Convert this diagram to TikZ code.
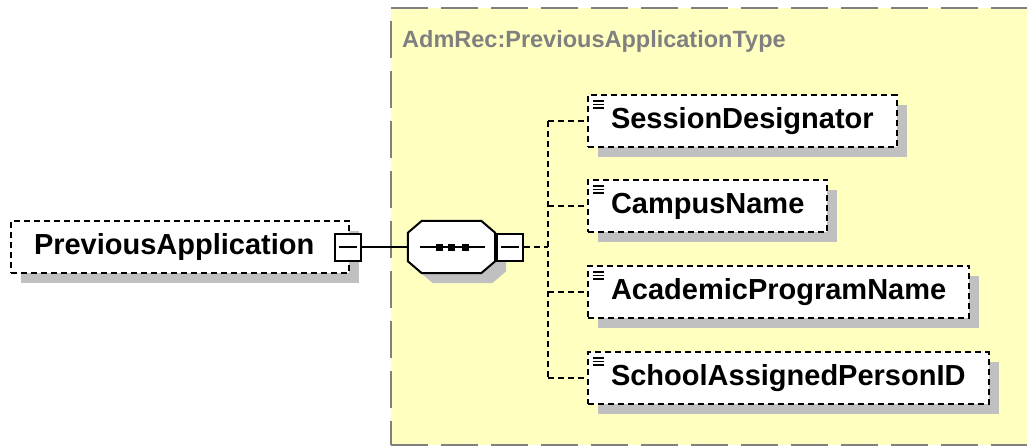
\documentclass[tikz,border=0pt]{standalone}
\usepackage{fontspec}
\setmainfont{Liberation Sans}
\usetikzlibrary{shadows}

\definecolor{typefill}{RGB}{255,255,192}
\definecolor{typeline}{RGB}{128,128,128}
\definecolor{shadowgrey}{RGB}{192,192,192}

\newcommand{\octagonpath}[1]{([shift={(14,0)}]#1.north west) -- ([shift={(-14,0)}]#1.north east)
  -- ([shift={(0,12)}]#1.north east) -- ([shift={(0,-12)}]#1.south east)
  -- ([shift={(-14,0)}]#1.south east) -- ([shift={(14,0)}]#1.south west)
  -- ([shift={(0,-12)}]#1.south west) -- ([shift={(0,12)}]#1.north west) -- cycle}

\tikzset{
  boxshadow/.style={drop shadow={shadow xshift=10pt, shadow yshift=-10pt, fill=shadowgrey, opacity=1}},
  elem/.style={draw, line width=2pt, dash pattern=on 6pt off 4pt, fill=white,
    minimum height=52pt, inner xsep=23pt, inner ysep=0pt, boxshadow,
    font=\bfseries\fontsize{29}{29}\selectfont},
  leaf/.style={elem, anchor=west,
    path picture={
      \foreach \dy in {6,9.5,13}
        \draw[solid, line width=1.5pt] ([shift={(5,\dy)}]path picture bounding box.north west) -- ++(11,0);
    }},
  minusbox/.style={draw, solid, line width=2pt, fill=white, minimum width=26pt,
    minimum height=27pt, inner sep=0pt,
    path picture={
      \draw[line width=2pt] ([xshift=4pt]path picture bounding box.west) -- ([xshift=-4pt]path picture bounding box.east);
    }},
  seqarea/.style={rectangle, minimum width=87pt, minimum height=52pt, inner sep=0pt},
  branch/.style={draw, line width=2pt, dash pattern=on 6pt off 4pt},
  typebox/.style={draw=typeline, fill=typefill, line width=2pt, dash pattern=on 37pt off 13pt}
}

\begin{document}
\begin{tikzpicture}[x=1pt,y=-1pt]
  \useasboundingbox (0,0) rectangle (1027,445);
  \clip (0,0) rectangle (1027,445);

  % complex type
  \node[typebox, anchor=north west, minimum width=650pt, minimum height=437pt] (ptype) at (390,7) {};
  \node[anchor=base west, text=typeline, font=\bfseries\fontsize{23.5}{23.5}\selectfont, inner sep=0pt]
    (ptitle) at (402,47) {AdmRec:PreviousApplicationType};

  % element and sequence
  \node[elem, anchor=west] (prevapp) at (10,247) {PreviousApplication\hspace*{12pt}};
  \node[minusbox] (pminus) at (348,247) {};
  \node[seqarea] (seq) at (451.5,247) {};
  \fill[shadowgrey, transform canvas={shift={(11pt,-10pt)}}] \octagonpath{seq};
  \draw[fill=white, line width=2pt] \octagonpath{seq};
  \draw[line width=2pt] ([xshift=12pt]seq.west) -- ([xshift=-10pt]seq.east);
  \foreach \dx in {-12,0,14}
    \fill[black] ([xshift=\dx pt]seq.center) +(-3.5,-3.5) rectangle +(3.5,3.5);
  \node[minusbox] (sminus) at (510,247) {};

  % children
  \node[leaf] (sessdes) at (587,121) {SessionDesignator};
  \node[leaf] (campus) at (587,206) {CampusName};
  \node[leaf] (acadprog) at (587,292) {AcademicProgramName};
  \node[leaf] (schoolid) at (587,378) {SchoolAssignedPersonID};

  \coordinate (trunk) at (548,247);

  \draw[line width=2pt] (pminus) -- (seq);
  \draw[branch] (sminus) -- (trunk);
  \draw[branch] (trunk |- sessdes) -- (trunk |- schoolid);
  \foreach \c in {sessdes,campus,acadprog,schoolid}
    \draw[branch] (trunk |- \c) -- (\c);
\end{tikzpicture}
\end{document}
